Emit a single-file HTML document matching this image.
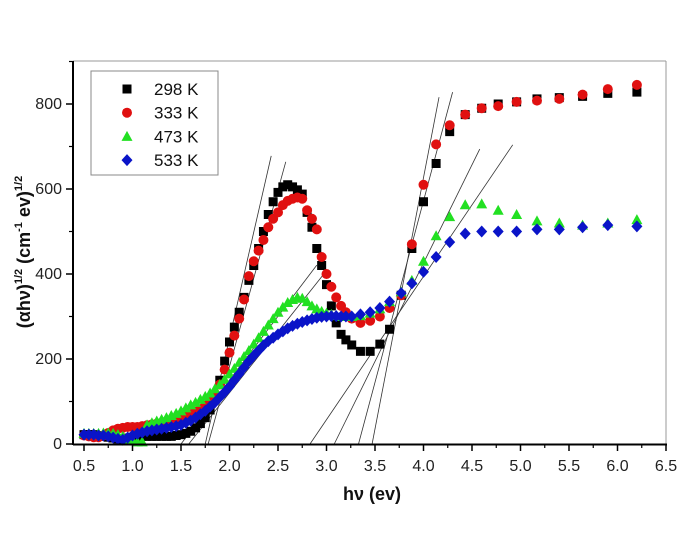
<!DOCTYPE html>
<html><head><meta charset="utf-8"><style>
html,body{margin:0;padding:0;background:#fff;width:692px;height:534px;overflow:hidden}
svg{font-family:"Liberation Sans",sans-serif}
</style></head><body>
<svg id="chart" width="692" height="534" viewBox="0 0 692 534" xmlns="http://www.w3.org/2000/svg">
<g id="grid"></g><g id="fits"></g><g id="marks"></g><g id="axes"></g>
<g id="legend">
<rect x="91" y="71" width="127" height="104" fill="#fff" stroke="#888" stroke-width="1"/>
</g>
<text transform="translate(30,252) rotate(-90)" text-anchor="middle" font-size="18" font-weight="bold" fill="#111">(αhν)<tspan font-size="11" dy="-8">1/2</tspan><tspan dy="8"> (cm</tspan><tspan font-size="11" dy="-8">-1</tspan><tspan dy="8"> ev)</tspan><tspan font-size="11" dy="-8">1/2</tspan></text>
<text x="372" y="500" text-anchor="middle" font-size="18" font-weight="bold" fill="#111">hν  (ev)</text>
</svg>
<script>
const denseX=[0.5,0.55,0.6,0.65,0.7,0.75,0.8,0.85,0.9,0.95,1.0,1.05,1.1,1.15,1.2,1.25,1.3,1.35,1.4,1.45,1.5,1.55,1.6,1.65,1.7,1.75,1.8,1.85,1.9,1.95,2.0,2.05,2.1,2.15,2.2,2.25,2.3,2.35,2.4,2.45,2.5,2.55,2.6,2.65,2.7,2.75,2.8,2.85,2.9,2.95,3.0,3.05,3.1,3.15,3.2];
const tailX=[3.26,3.35,3.45,3.55,3.65,3.77,3.88,4.0,4.13,4.27,4.43,4.6,4.77,4.96,5.17,5.4,5.64,5.9,6.2];
const dense298=[22,22,22,20,18,16,14,12,12,14,16,18,18,18,18,18,18,18,18,20,22,25,30,38,48,62,80,110,150,195,240,275,310,345,385,420,460,500,540,570,592,605,610,605,598,588,545,510,460,420,375,325,285,258,245];
const tail298=[233,218,218,235,270,350,460,570,660,735,775,790,800,805,812,815,818,825,828];
const dense333=[20,18,16,16,20,26,32,36,38,40,40,40,42,44,46,48,50,52,55,58,62,66,70,76,82,90,100,115,140,175,215,255,295,340,395,430,455,480,510,530,545,562,572,577,580,577,550,530,505,440,400,370,345,325,310];
const tail333=[295,285,290,300,320,350,470,610,705,750,775,790,795,805,808,812,822,835,845];
const dense473=[25,25,25,25,26,26,25,22,18,12,8,5,5,45,50,54,58,62,67,72,78,85,92,98,105,112,120,130,140,152,165,178,192,206,220,235,250,265,280,295,310,322,333,340,345,343,335,325,318,312,308,305,302,300,300];
const tail473=[300,302,308,318,335,358,385,430,490,535,563,565,550,540,525,520,515,520,528];
const dense533=[22,22,22,20,20,18,15,12,10,15,20,24,27,30,32,34,36,38,40,42,45,50,55,62,70,78,88,98,110,122,135,150,165,180,195,208,220,232,242,250,258,265,272,278,283,287,291,294,297,299,300,301,301,300,300];
const tail533=[300,305,310,320,335,355,378,405,440,475,495,500,500,500,505,505,510,515,512];
const fitX0=[1.75,1.78,1.5,1.58,2.83,3.08,3.33,3.47];
const fitY0=[0,0,0,0,0,0,0,0];
const fitX1=[2.43,2.58,2.9,2.98,4.92,4.58,4.3,4.16];
const fitY1=[678,664,421,402,704,694,828,816];
const xTicks=[0.5,1.0,1.5,2.0,2.5,3.0,3.5,4.0,4.5,5.0,5.5,6.0,6.5];
const yTicks=[0,200,400,600,800];
const legendLabels=["298 K","333 K","473 K","533 K"];

const X=v=>84+(v-0.5)*97;
const Y=v=>444-v*0.425;
const NS="http://www.w3.org/2000/svg";
function mk(tag,attrs,parent){const e=document.createElementNS(NS,tag);for(const k in attrs)e.setAttribute(k,attrs[k]);parent.appendChild(e);return e;}
const marks=document.getElementById('marks'),axes=document.getElementById('axes'),fits=document.getElementById('fits');

function marker(kind,cx,cy,color,parent){
  let e;
  if(kind==='sq') e=mk('rect',{x:cx-4.5,y:cy-4.5,width:9,height:9,fill:color},parent);
  else if(kind==='ci') e=mk('circle',{cx:cx,cy:cy,r:5,fill:color},parent);
  else if(kind==='tr') e=mk('polygon',{points:`${cx},${cy-5.5} ${cx+5.5},${cy+4.5} ${cx-5.5},${cy+4.5}`,fill:color},parent);
  else e=mk('polygon',{points:`${cx},${cy-6} ${cx+5.5},${cy} ${cx},${cy+6} ${cx-5.5},${cy}`,fill:color},parent);
  return e;
}
const series=[
 {name:'298',d:dense298,t:tail298,k:'sq',c:'#000'},
 {name:'333',d:dense333,t:tail333,k:'ci',c:'#e01010'},
 {name:'473',d:dense473,t:tail473,k:'tr',c:'#22e022'},
 {name:'533',d:dense533,t:tail533,k:'di',c:'#0a14c8'}];
series.forEach(s=>{
  const g=mk('g',{},marks);
  
  
  const n=Math.min(denseX.length,s.d.length);
  for(let i=0;i<n;i++){const m=marker(s.k,X(denseX[i]),Y(s.d[i]),s.c,g);
    
    }
  const n2=Math.min(tailX.length,s.t.length);
  for(let i=0;i<n2;i++){const m=marker(s.k,X(tailX[i]),Y(s.t[i]),s.c,g);
    
    }
});
for(let i=0;i<fitX0.length;i++){
  const l=mk('line',{x1:X(fitX0[i]),y1:Y(fitY0[i]),x2:X(fitX1[i]),y2:Y(fitY1[i]),stroke:'#333','stroke-width':0.8},fits);
  
  
}
mk('line',{x1:73,y1:61,x2:666,y2:61,stroke:'#999','stroke-width':1},axes);
mk('line',{x1:666,y1:61,x2:666,y2:444,stroke:'#999','stroke-width':1},axes);
const xa=mk('line',{x1:73,y1:444.5,x2:667,y2:444.5,stroke:'#000','stroke-width':2},axes);


const ya=mk('line',{x1:73,y1:61,x2:73,y2:445,stroke:'#000','stroke-width':2},axes);


xTicks.forEach((v,i)=>{
  mk('line',{x1:X(v),y1:444,x2:X(v),y2:451,stroke:'#000','stroke-width':1.5},axes);
  if(i<xTicks.length-1) mk('line',{x1:X(v+0.25),y1:444,x2:X(v+0.25),y2:448,stroke:'#000','stroke-width':1.2},axes);
  const t=mk('text',{x:X(v),y:471,'text-anchor':'middle','font-size':16,fill:'#222'},axes);
  t.textContent=v.toFixed(1);
  
  
});
yTicks.forEach(v=>{
  mk('line',{x1:66,y1:Y(v),x2:73,y2:Y(v),stroke:'#000','stroke-width':1.5},axes);
  mk('line',{x1:69,y1:Y(v+100),x2:73,y2:Y(v+100),stroke:'#000','stroke-width':1.2},axes);
  const t=mk('text',{x:62,y:Y(v)+5,'text-anchor':'end','font-size':16,fill:'#222'},axes);
  t.textContent=v;
  
  
});
const lg=document.getElementById('legend');
legendLabels.forEach((lab,i)=>{
  const y=89+i*23.7;
  const m=marker(series[i].k,127,y,series[i].c,lg);
  
  
  const t=mk('text',{x:154,y:y+6,'font-size':17,fill:'#111'},lg);
  t.textContent=lab;
  
  
});
</script>
</body></html>
